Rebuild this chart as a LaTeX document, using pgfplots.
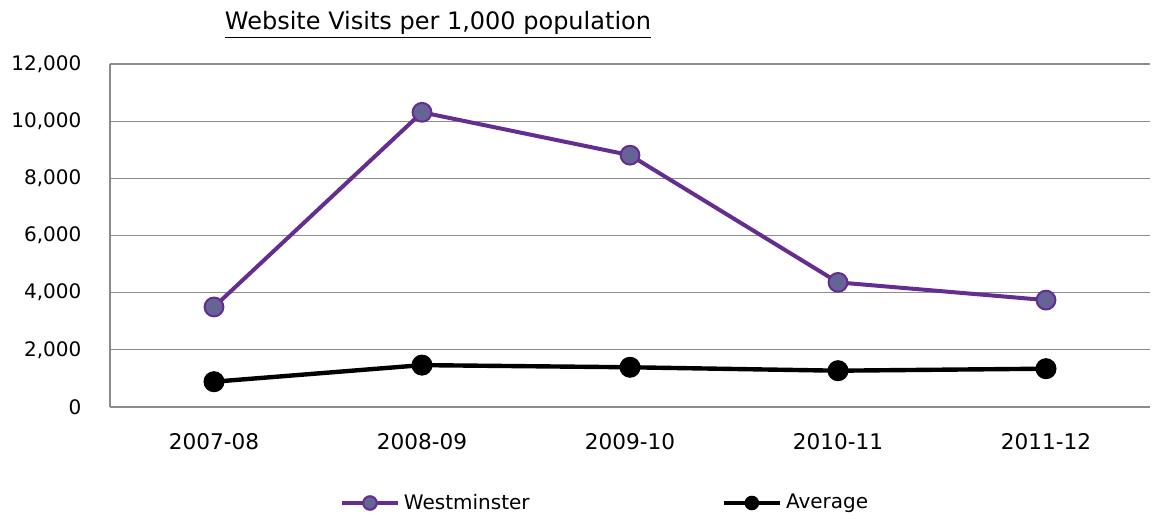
\documentclass[border=0pt]{standalone}
\usepackage{fontspec}
\setmainfont{DejaVu Sans}
\usepackage{pgfplots}
\pgfplotsset{compat=1.18}
\definecolor{westline}{RGB}{102,45,145}
\definecolor{westfill}{RGB}{100,100,150}
\definecolor{gridgray}{RGB}{140,140,140}

\begin{document}
\fontsize{10}{12}\selectfont
\begin{tikzpicture}
\begin{axis}[
  name=ax,
  scale only axis,
  width=520pt, height=171.5pt,
  xmin=-0.5, xmax=4.5,
  ymin=0, ymax=12000,
  ytick={0,2000,...,12000},
  xtick={0,...,4},
  xticklabels={2007-08,2008-09,2009-10,2010-11,2011-12},
  axis x line*=bottom,
  axis y line*=left,
  axis line style={gridgray, line width=0.7pt},
  ymajorgrids,
  grid style={gridgray, line width=0.6pt},
  major tick length=0pt,
  scaled y ticks=false,
  yticklabel style={xshift=-10.8pt},
  xticklabel style={yshift=-9.5pt, font=\fontsize{10.8}{12}\selectfont},
  /pgf/number format/.cd, fixed, 1000 sep={,}, assume math mode=true,
  /pgfplots/.cd,
  title={\underline{Website Visits per 1,000 population}},
  title style={at={(rel axis cs:0.3154,1)}, anchor=base, yshift=11pt,
    font=\fontsize{12}{14}\selectfont},
  legend columns=2,
  legend cell align=left,
  legend style={at={(rel axis cs:0.477,0)}, anchor=center, yshift=-48pt,
    draw=none, /tikz/every even column/.append style={column sep=94pt}},
  legend image code/.code={
    \draw[mark repeat=2, mark phase=2, #1, mark size=3.4pt]
      plot coordinates {(0pt,0pt) (14pt,0pt) (28pt,0pt)};},
]
\addplot[westline, line width=2pt, mark=*, mark size=4.7pt,
  mark options={fill=westfill, draw=westline, line width=1pt}]
  coordinates {(0,3500) (1,10310) (2,8810) (3,4360) (4,3740)};
\addlegendentry{Westminster}
\addplot[black, line width=2.2pt, mark=*, mark size=5pt,
  mark options={fill=black, line width=0.5pt}]
  coordinates {(0,885) (1,1465) (2,1390) (3,1270) (4,1340)};
\addlegendentry{Average}
\end{axis}
\pgfresetboundingbox
\path ([shift={(-55pt,-55.5pt)}]ax.south west) rectangle ([shift={(1pt,32pt)}]ax.north east);
\end{tikzpicture}
\end{document}
